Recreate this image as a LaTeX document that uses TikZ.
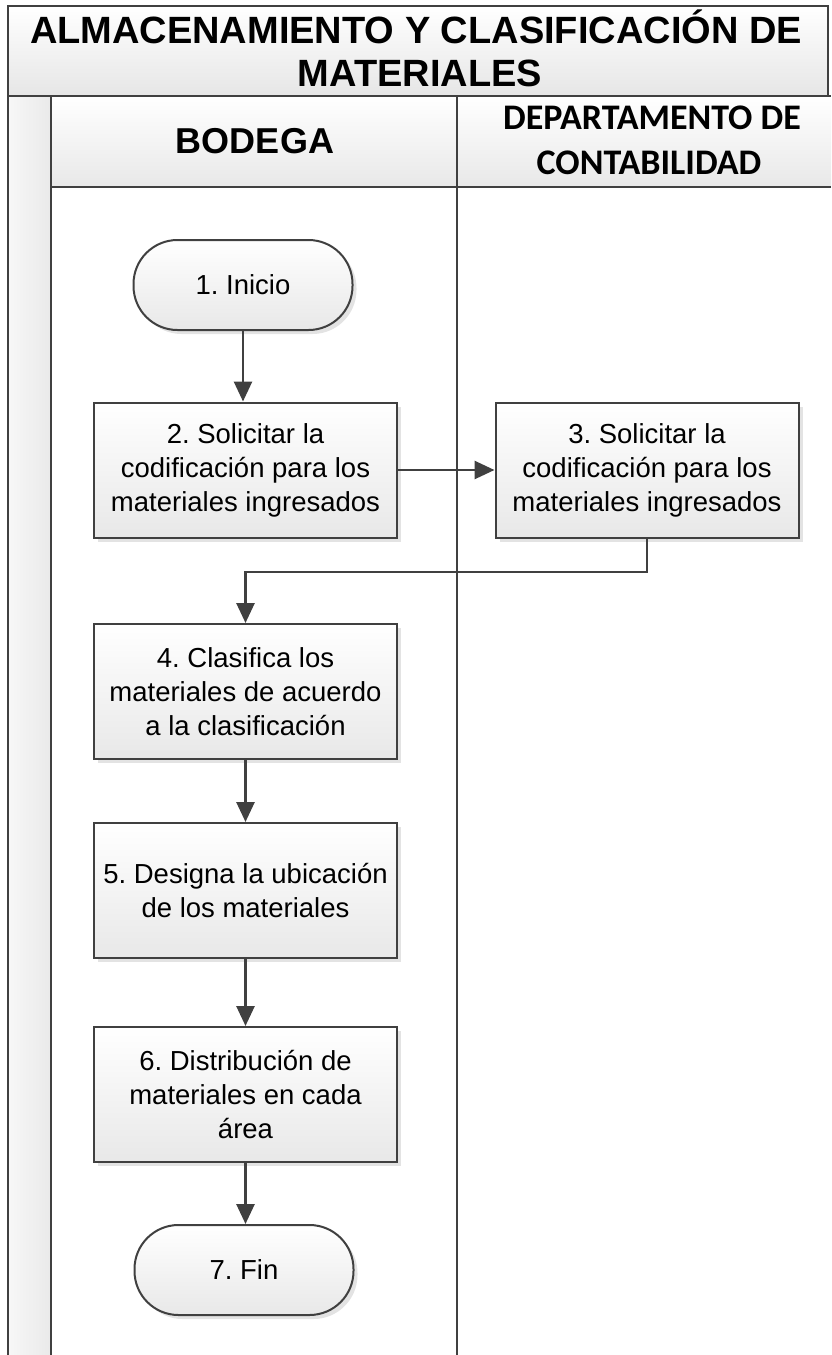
\documentclass[tikz,border=0pt]{standalone}
\usepackage{fontspec}
\setmainfont{Liberation Sans}
\newfontfamily\calibri{Carlito}
\usetikzlibrary{arrows.meta,shadows}
\definecolor{linecol}{HTML}{404040}
\definecolor{boxgray}{HTML}{E8E8E8}
\definecolor{bandgray}{HTML}{E6E6E6}
\frenchspacing
\begin{document}
\begin{tikzpicture}[x=1pt,y=-1pt,
  laneline/.style={draw=linecol, line width=2.4pt},
  procbox/.style={draw=linecol, line width=2pt, top color=white, bottom color=boxgray,
    minimum width=303pt, minimum height=135pt, align=center, inner sep=0pt,
    font=\fontsize{27.5}{34}\selectfont,
    drop shadow={opacity=0.22, shadow xshift=4pt, shadow yshift=-4pt}},
  termbox/.style={procbox, minimum width=219pt, minimum height=90pt, rounded corners=44pt},
  arr/.style={draw=linecol, line width=2.7pt, -{Triangle[length=20pt,width=18pt]}},
  titletext/.style={font=\bfseries\fontsize{38}{42}\selectfont, anchor=base, inner sep=0pt},
  headtext/.style={font=\calibri\bfseries\fontsize{36}{40}\selectfont, anchor=base, inner sep=0pt},
  bodtext/.style={font=\bfseries\fontsize{36}{40}\selectfont, anchor=base, inner sep=0pt}
]
\useasboundingbox (0,0) rectangle (831,1355);
% backgrounds
\shade[top color=white, bottom color=bandgray] (8,6) rectangle (828,96);
\shade[top color=white, bottom color=boxgray] (51,96) rectangle (831,187);
\shade[left color=gray!6, right color=gray!17] (8,96) rectangle (51,1355);
% lines
\draw[laneline, line width=2pt] (8,6) rectangle (828,96);
\draw[laneline] (8,96) -- (8,1355);
\draw[laneline] (8,96) -- (831,96);
\draw[laneline] (51,187) -- (831,187);
\draw[laneline] (51,96) -- (51,1355);
\draw[laneline] (457,96) -- (457,1355);
% texts
\node[titletext] (t1) at (416,43) {ALMACENAMIENTO Y CLASIFICACIÓN DE};
\node[titletext] (t2) at (420,86) {MATERIALES};
\node[bodtext] (h1) at (255,153) {BODEGA};
\node[headtext] (h2a) at (652,129) {DEPARTAMENTO DE};
\node[headtext] (h2b) at (649,174) {CONTABILIDAD};
% nodes
\node[termbox] (inicio) at (243,285) {1. Inicio};
\node[procbox] (b2) at (245.5,470) {2. Solicitar la\\codificación para los\\materiales ingresados};
\node[procbox] (b3) at (647,470) {3. Solicitar la\\codificación para los\\materiales ingresados};
\node[procbox] (b4) at (245.5,691.5) {4. Clasifica los\\materiales de acuerdo\\a la clasificación};
\node[procbox] (b5) at (245.5,890.5) {5. Designa la ubicación\\de los materiales};
\node[procbox] (b6) at (245.5,1094.5) {6. Distribución de\\materiales en cada\\área};
\node[termbox] (fin) at (244,1270) {7. Fin};
\coordinate (turn) at (647,572);
% connectors
\draw[arr] (inicio.south) -- (inicio.south |- b2.north);
\draw[arr] (b2.east) -- (b3.west);
\draw[arr] (b3.south) -- (turn) -| (b4.north);
\draw[arr] (b4.south) -- (b5.north);
\draw[arr] (b5.south) -- (b6.north);
\draw[arr] (b6.south) -- (b6.south |- fin.north);
\end{tikzpicture}
\end{document}
